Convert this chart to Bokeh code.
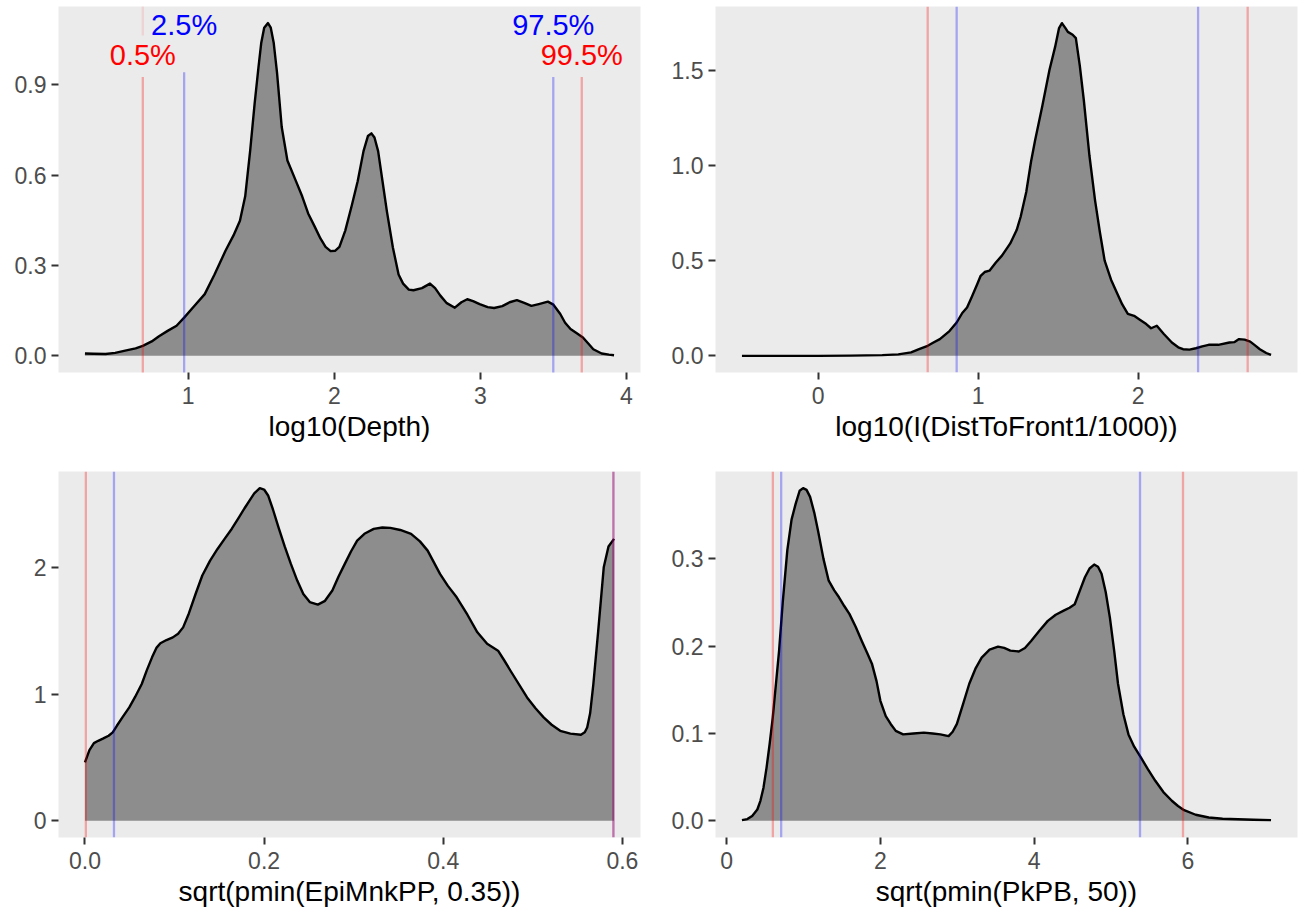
from bokeh.plotting import figure
from bokeh.layouts import gridplot
from bokeh.models import Range1d, FixedTicker, Span
from bokeh.embed import file_html
from bokeh.resources import INLINE
from bokeh.core.properties import value

FONT = "Liberation Sans"

# ---------------- data ----------------
depth_x = [0.293, 0.35, 0.434, 0.5, 0.576, 0.64, 0.689, 0.75, 0.80, 0.859, 0.92, 0.972, 1.04,
           1.113, 1.18, 1.255, 1.31, 1.354, 1.39, 1.424, 1.455, 1.481, 1.50, 1.52, 1.546, 1.565,
           1.585, 1.608, 1.64, 1.679, 1.736, 1.78, 1.821, 1.865, 1.905, 1.94, 1.975, 2.005,
           2.035, 2.075, 2.12, 2.16, 2.20, 2.23, 2.254, 2.275, 2.30, 2.33, 2.36, 2.401, 2.44,
           2.471, 2.51, 2.542, 2.60, 2.655, 2.69, 2.726, 2.77, 2.825, 2.87, 2.91, 2.95, 2.995,
           3.05, 3.094, 3.15, 3.20, 3.25, 3.30, 3.349, 3.40, 3.462, 3.50, 3.547, 3.58, 3.617,
           3.66, 3.702, 3.74, 3.773, 3.83, 3.88, 3.915]
depth_y = [0.008, 0.007, 0.006, 0.010, 0.018, 0.025, 0.033, 0.048, 0.065, 0.083, 0.100, 0.127,
           0.165, 0.205, 0.270, 0.349, 0.400, 0.449, 0.530, 0.682, 0.840, 0.959, 1.040, 1.090,
           1.105, 1.090, 1.040, 0.940, 0.760, 0.649, 0.582, 0.530, 0.473, 0.430, 0.390, 0.362,
           0.348, 0.349, 0.362, 0.416, 0.500, 0.580, 0.680, 0.730, 0.739, 0.725, 0.680, 0.580,
           0.480, 0.360, 0.270, 0.240, 0.220, 0.218, 0.225, 0.240, 0.225, 0.200, 0.175, 0.160,
           0.178, 0.188, 0.182, 0.172, 0.162, 0.159, 0.165, 0.178, 0.185, 0.176, 0.166, 0.172,
           0.180, 0.170, 0.139, 0.110, 0.089, 0.075, 0.061, 0.040, 0.022, 0.008, 0.004, 0.002]
depth_q = [0.689, 0.972, 3.499, 3.694]

dist_x = [-0.477, -0.2, 0.0, 0.2, 0.40, 0.5, 0.58, 0.63, 0.684, 0.72, 0.76, 0.82, 0.865, 0.90,
          0.93, 0.96, 0.994, 1.015, 1.04, 1.07, 1.11, 1.148, 1.20, 1.24, 1.265, 1.30, 1.33,
          1.355, 1.40, 1.445, 1.48, 1.505, 1.523, 1.545, 1.56, 1.59, 1.61, 1.635, 1.66, 1.695,
          1.73, 1.76, 1.79, 1.83, 1.87, 1.90, 1.935, 1.974, 2.01, 2.05, 2.08, 2.116, 2.16, 2.21,
          2.25, 2.28, 2.32, 2.36, 2.40, 2.44, 2.50, 2.57, 2.60, 2.63, 2.665, 2.70, 2.73, 2.76,
          2.80, 2.83]
dist_y = [0.0, 0.0, 0.0, 0.001, 0.004, 0.008, 0.018, 0.035, 0.053, 0.070, 0.088, 0.130, 0.175,
          0.225, 0.254, 0.310, 0.377, 0.420, 0.440, 0.447, 0.490, 0.526, 0.590, 0.660, 0.730,
          0.860, 1.020, 1.130, 1.310, 1.500, 1.620, 1.720, 1.746, 1.720, 1.700, 1.685, 1.667,
          1.520, 1.340, 1.050, 0.816, 0.650, 0.500, 0.400, 0.325, 0.270, 0.220, 0.210, 0.190,
          0.167, 0.145, 0.158, 0.115, 0.070, 0.045, 0.035, 0.033, 0.040, 0.050, 0.058, 0.058,
          0.070, 0.072, 0.088, 0.085, 0.075, 0.055, 0.035, 0.015, 0.005]
dist_q = [0.684, 0.865, 2.374, 2.684]

epi_x = [0.0, 0.005, 0.01, 0.0148, 0.02, 0.0264, 0.031, 0.0356, 0.042, 0.0495, 0.056, 0.0634,
         0.069, 0.0749, 0.080, 0.0842, 0.091, 0.0981, 0.104, 0.1096, 0.116, 0.1235, 0.131,
         0.1397, 0.148, 0.1559, 0.164, 0.1721, 0.178, 0.1837, 0.189, 0.1952, 0.2, 0.2045,
         0.210, 0.2160, 0.223, 0.2299, 0.237, 0.2438, 0.251, 0.2600, 0.268, 0.2762, 0.283,
         0.2901, 0.297, 0.3039, 0.312, 0.3224, 0.332, 0.3409, 0.352, 0.3641, 0.374, 0.3826,
         0.3964, 0.405, 0.4150, 0.427, 0.4381, 0.449, 0.4612, 0.468, 0.4751, 0.4936, 0.503,
         0.5121, 0.521, 0.5306, 0.542, 0.5537, 0.558, 0.5607, 0.564, 0.5676, 0.573, 0.5792,
         0.5845, 0.5907]
epi_y = [0.462, 0.560, 0.615, 0.633, 0.650, 0.673, 0.700, 0.752, 0.820, 0.897, 0.980, 1.082,
         1.190, 1.293, 1.370, 1.404, 1.430, 1.451, 1.480, 1.530, 1.640, 1.794, 1.940, 2.058,
         2.150, 2.230, 2.310, 2.401, 2.470, 2.533, 2.590, 2.631, 2.620, 2.573, 2.460, 2.322,
         2.170, 2.032, 1.900, 1.794, 1.730, 1.710, 1.740, 1.821, 1.930, 2.032, 2.130, 2.216,
         2.270, 2.309, 2.320, 2.317, 2.300, 2.269, 2.210, 2.137, 1.953, 1.860, 1.768, 1.630,
         1.491, 1.400, 1.346, 1.270, 1.187, 0.976, 0.890, 0.818, 0.760, 0.712, 0.690, 0.681,
         0.700, 0.739, 0.850, 1.082, 1.500, 2.005, 2.170, 2.230]
epi_q = [0.001, 0.0324, 0.590, 0.590]

pkpb_x = [0.20, 0.27, 0.333, 0.40, 0.44, 0.48, 0.52, 0.56, 0.60, 0.64, 0.683, 0.73, 0.79, 0.845,
          0.898, 0.95, 0.995, 1.04, 1.086, 1.14, 1.19, 1.26, 1.328, 1.40, 1.462, 1.53, 1.597,
          1.68, 1.758, 1.83, 1.89, 1.95, 2.0, 2.07, 2.134, 2.2, 2.296, 2.43, 2.565, 2.68, 2.78,
          2.887, 2.94, 2.995, 3.08, 3.156, 3.24, 3.317, 3.42, 3.53, 3.61, 3.69, 3.80, 3.88,
          3.96, 4.07, 4.177, 4.28, 4.39, 4.46, 4.527, 4.60, 4.66, 4.72, 4.78, 4.83, 4.876, 4.93,
          4.984, 5.04, 5.09, 5.16, 5.226, 5.30, 5.387, 5.48, 5.575, 5.68, 5.79, 5.87, 5.95, 6.1,
          6.27, 6.45, 6.65, 6.85, 7.08]
pkpb_y = [0.0008, 0.002, 0.0057, 0.013, 0.023, 0.038, 0.061, 0.088, 0.118, 0.155, 0.195, 0.250,
          0.310, 0.345, 0.363, 0.378, 0.381, 0.379, 0.371, 0.353, 0.332, 0.300, 0.275, 0.264,
          0.256, 0.246, 0.237, 0.222, 0.206, 0.192, 0.180, 0.160, 0.1375, 0.120, 0.111, 0.103,
          0.099, 0.100, 0.101, 0.100, 0.099, 0.097, 0.102, 0.111, 0.135, 0.157, 0.175, 0.187,
          0.196, 0.1995, 0.198, 0.195, 0.194, 0.198, 0.206, 0.218, 0.229, 0.236, 0.241, 0.244,
          0.248, 0.265, 0.279, 0.289, 0.2935, 0.291, 0.283, 0.262, 0.233, 0.195, 0.157, 0.122,
          0.099, 0.085, 0.0726, 0.059, 0.0459, 0.033, 0.023, 0.017, 0.0122, 0.007, 0.0038,
          0.0025, 0.0019, 0.0013, 0.0008]
pkpb_q = [0.602, 0.710, 5.376, 5.935]

q_labels = ["0.5%", "2.5%", "97.5%", "99.5%"]
q_label_y = [1.0, 1.1, 1.1, 1.0]
q_line_top = [0.926, 0.942, 0.926, 0.926]

depth_xticks = [1, 2, 3, 4]
depth_yticks = [0.0, 0.3, 0.6, 0.9]
depth_ylabels = ["0.0", "0.3", "0.6", "0.9"]
dist_xticks = [0, 1, 2]
dist_yticks = [0.0, 0.5, 1.0, 1.5]
dist_ylabels = ["0.0", "0.5", "1.0", "1.5"]
epi_xticks = [0.0, 0.2, 0.4, 0.6]
epi_xlabels = ["0.0", "0.2", "0.4", "0.6"]
epi_yticks = [0, 1, 2]
pkpb_xticks = [0, 2, 4, 6]
pkpb_yticks = [0.0, 0.1, 0.2, 0.3]
pkpb_ylabels = ["0.0", "0.1", "0.2", "0.3"]

Q_COLORS = ["red", "blue", "blue", "red"]


def make_panel(xs, ys, xticks, xlabels, yticks, ylabels, xtitle,
               width, height, left, right, top, bottom):
    sx = max(xs) - min(xs)
    m = max(ys)
    p = figure(width=width, height=height, output_backend="svg", toolbar_location=None,
               x_range=Range1d(min(xs) - 0.05 * sx, max(xs) + 0.05 * sx),
               y_range=Range1d(-0.05 * m, 1.05 * m),
               min_border_left=left, min_border_right=right,
               min_border_top=top, min_border_bottom=bottom,
               background_fill_color="#EBEBEB", border_fill_color="white",
               outline_line_color=None)
    p.grid.visible = False
    p.varea(x=xs, y1=[0] * len(xs), y2=ys, fill_color="#8D8D8D")
    p.line(xs, ys, line_color="black", line_width=2.4, line_join="round")

    for ax, ticks, labels in ((p.xaxis, xticks, xlabels), (p.yaxis, yticks, ylabels)):
        ax.ticker = FixedTicker(ticks=ticks)
        ax.major_label_overrides = {t: l for t, l in zip(ticks, labels)}
        ax.axis_line_color = None
        ax.major_tick_line_color = "#333333"
        ax.major_tick_line_width = 2
        ax.major_tick_out = 7
        ax.major_tick_in = 0
        ax.minor_tick_line_color = None
        ax.major_label_text_font = FONT
        ax.major_label_text_font_size = "23px"
        ax.major_label_text_color = "#4D4D4D"
    p.xaxis.major_label_standoff = 7
    p.yaxis.major_label_standoff = 5
    p.xaxis.axis_label = xtitle
    p.xaxis.axis_label_text_font = FONT
    p.xaxis.axis_label_text_font_size = "28px"
    p.xaxis.axis_label_text_font_style = "normal"
    p.xaxis.axis_label_text_color = "black"
    p.xaxis.axis_label_standoff = 4
    return p


def add_spans(p, qs):
    for q, c in zip(qs, Q_COLORS):
        p.add_layout(Span(location=q, dimension="height", line_color=c,
                          line_alpha=0.3, line_width=2.3))


p1 = make_panel(depth_x, depth_y, depth_xticks, [str(t) for t in depth_xticks],
                depth_yticks, depth_ylabels, "log10(Depth)",
                665, 448, 58, 25, 6, 76)
p1.segment(x0=depth_q, y0=[-1.0] * 4, x1=depth_q, y1=q_line_top,
           line_color=Q_COLORS, line_alpha=0.3, line_width=2.3)
p1.segment(x0=[depth_q[0]], y0=[1.064], x1=[depth_q[0]], y1=[2.0],
           line_color="red", line_alpha=0.1, line_width=2.3)
p1.text(x=depth_q, y=q_label_y, text=q_labels, text_color=Q_COLORS,
        text_font=value(FONT), text_font_size=value("29px"),
        text_align="center", text_baseline="middle")

p2 = make_panel(dist_x, dist_y, dist_xticks, [str(t) for t in dist_xticks],
                dist_yticks, dist_ylabels, "log10(I(DistToFront1/1000))",
                634, 448, 50, 2, 6, 76)
add_spans(p2, dist_q)

p3 = make_panel(epi_x, epi_y, epi_xticks, epi_xlabels,
                epi_yticks, [str(t) for t in epi_yticks], "sqrt(pmin(EpiMnkPP, 0.35))",
                665, 463, 58, 25, 23, 74)
add_spans(p3, epi_q)

p4 = make_panel(pkpb_x, pkpb_y, pkpb_xticks, [str(t) for t in pkpb_xticks],
                pkpb_yticks, pkpb_ylabels, "sqrt(pmin(PkPB, 50))",
                634, 463, 50, 2, 23, 74)
add_spans(p4, pkpb_q)

grid = gridplot([[p1, p2], [p3, p4]], toolbar_location=None)

open("out.html", "w").write(file_html(grid, INLINE))
